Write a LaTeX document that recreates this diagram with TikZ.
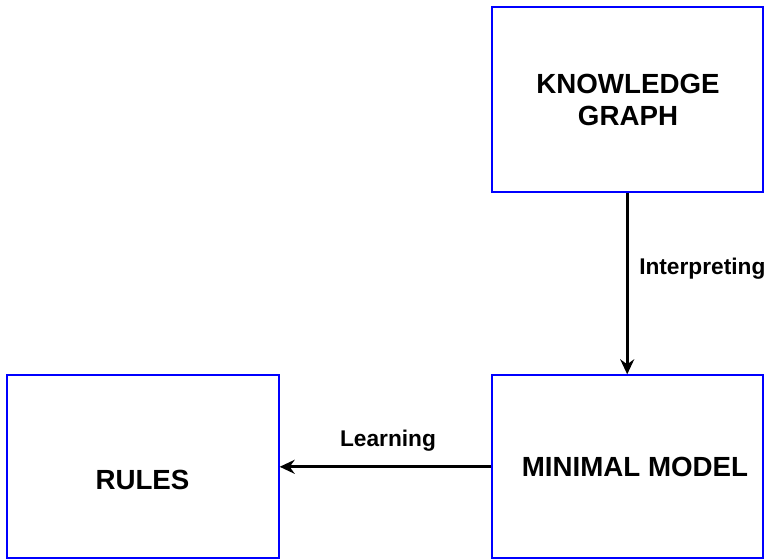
\documentclass[tikz,border=0pt]{standalone}
\usepackage{fontspec}
\setmainfont{Liberation Sans}
\usetikzlibrary{arrows.meta}
\tikzset{
  box/.style={draw=blue, line width=2pt, inner sep=0pt, fill=white},
  bigtext/.style={font=\bfseries\fontsize{27.7}{32.7}\selectfont, inner sep=0pt, align=center},
  lbl/.style={font=\bfseries\fontsize{22.7}{26}\selectfont, inner sep=0pt},
  arr/.style={line width=2.8pt, -{Stealth[length=15pt 0,width=14pt 0,inset=5pt 0]}}
}
\begin{document}
\begin{tikzpicture}[x=1pt,y=-1pt]
\useasboundingbox[fill=white] (0,0) rectangle (770,559);
\node[box, minimum width=271pt, minimum height=184pt] (kg) at (627.2,99.5) {};
\node[box, minimum width=271pt, minimum height=183pt] (mm) at (627.2,466.8) {};
\node[box, minimum width=271.4pt, minimum height=183pt] (rules) at (143,466.8) {};
\node[bigtext] (kgt) at (628,100) {KNOWLEDGE\\GRAPH};
\node[bigtext, anchor=base] (mmt) at (635,476.7) {MINIMAL MODEL};
\node[bigtext, anchor=base] (rt) at (142.5,489) {RULES};
\draw[arr] (kg) -- (mm);
\draw[arr] (mm) -- (rules);
\node[lbl, anchor=base] (interp) at (702.3,274) {Interpreting};
\node[lbl, anchor=base] (learn) at (388,446) {Learning};
\end{tikzpicture}
\end{document}
